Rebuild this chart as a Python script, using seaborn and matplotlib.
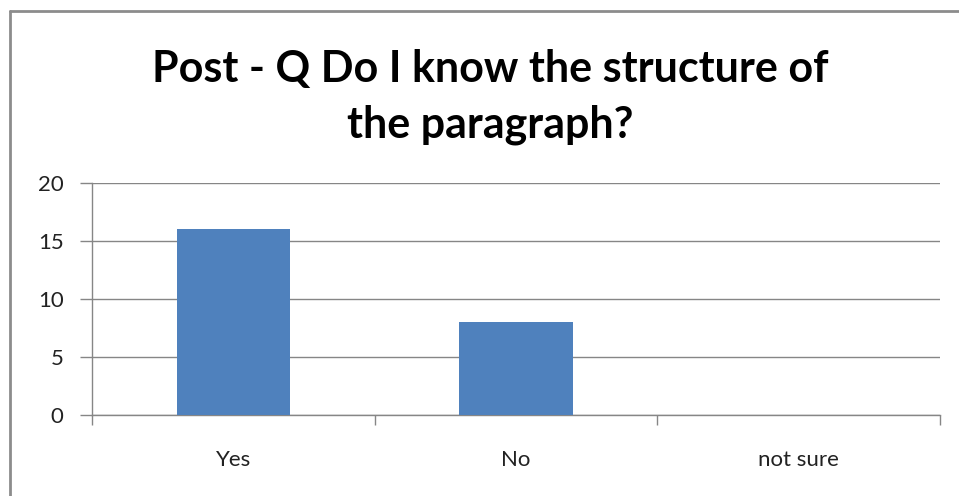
import matplotlib
matplotlib.use('Agg')
import matplotlib.pyplot as plt
import seaborn as sns
import pandas as pd
from matplotlib.lines import Line2D

answers = ['Yes', 'No', 'not sure']
counts = [16, 8, 0]
yticks = [0, 5, 10, 15, 20]
title = 'Post - Q Do I know the structure of\nthe paragraph?'

df = pd.DataFrame({'answer': answers, 'count': counts})

sns.set_style('white')
plt.rcParams['font.family'] = ['Lato', 'DejaVu Sans']

fig = plt.figure(figsize=(9.59, 4.96), dpi=100)
ax = fig.add_axes([92/959, 1 - 415/496, 848/959, 232/496])

sns.barplot(x='answer', y='count', data=df, color='#4F81BD', width=0.4,
            saturation=1, linewidth=0, ax=ax, zorder=3)

grey = '#868686'
ax.set_ylim(0, 20)
ax.set_xlim(-0.5, 2.5)
ax.set_yticks(yticks)
ax.yaxis.grid(True, color=grey, linewidth=1)
ax.set_axisbelow(True)
ax.set_xlabel('')
ax.set_ylabel('')
for s in ['top', 'right']:
    ax.spines[s].set_visible(False)
for s in ['left', 'bottom']:
    ax.spines[s].set_color(grey)
    ax.spines[s].set_linewidth(1)

ax.tick_params(axis='y', left=True, length=8.5, color=grey, width=1, labelsize=16,
               labelcolor='#222222', pad=12)
ax.tick_params(axis='x', which='major', bottom=False, length=0, labelsize=16,
               labelcolor='#222222', pad=25)
ax.set_xticks([-0.5, 0.5, 1.5, 2.5], minor=True)
ax.tick_params(axis='x', which='minor', bottom=True, length=7, color=grey, width=1)

fig.text(490/959, 1 - 97/496, title, ha='center', va='center', fontsize=31,
         fontweight='bold', color='black', linespacing=1.45)

# chart border
fig.add_artist(Line2D([10/959, 10/959], [0, 1 - 11/496], transform=fig.transFigure,
                      color='#8c8c8c', linewidth=2))
fig.add_artist(Line2D([10/959, 1], [1 - 11/496, 1 - 11/496], transform=fig.transFigure,
                      color='#8c8c8c', linewidth=2))

plt.savefig('out.png', dpi=100)
